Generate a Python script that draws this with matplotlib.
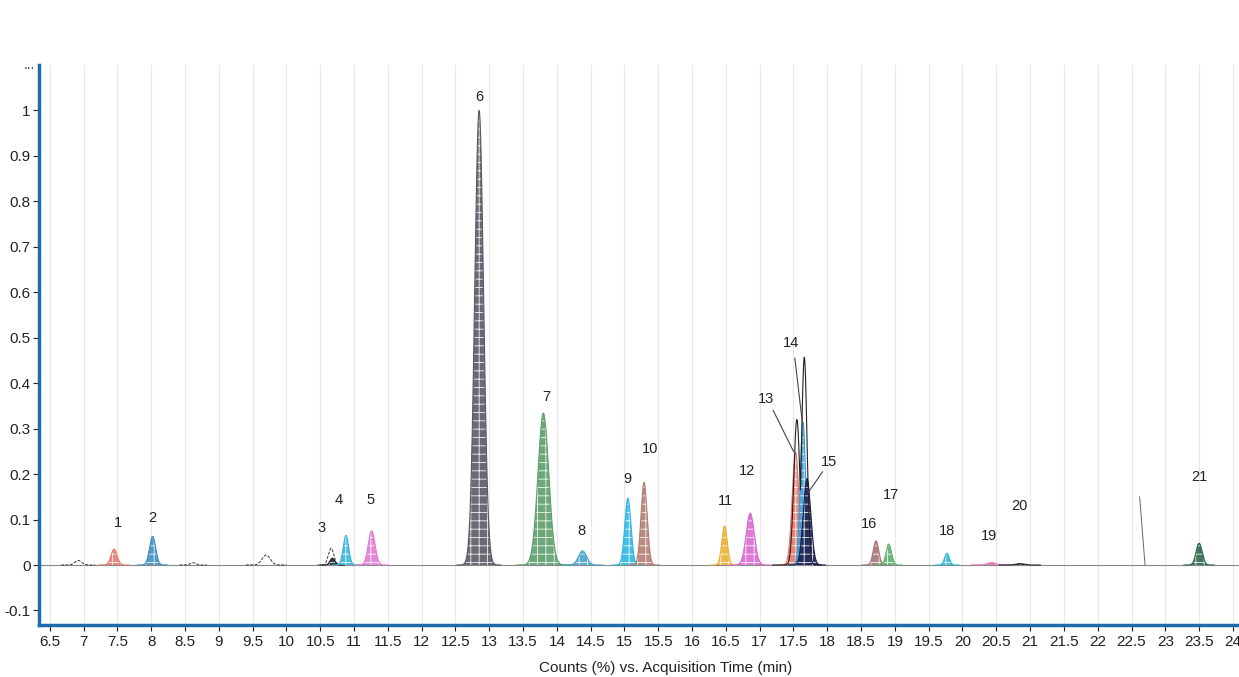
import numpy as np
import matplotlib
matplotlib.use("Agg")
import matplotlib.pyplot as plt

# peak table
peak_labels = ["1", "2", "3", "4", "5", "6", "7", "8", "9", "10", "11",
               "12", "13", "14", "15", "16", "17", "18", "19", "20", "21"]
peak_rt = [7.45, 8.02, 10.68, 10.88, 11.26, 12.85, 13.80, 14.38, 15.05, 15.29, 16.48,
           16.86, 17.53, 17.64, 17.70, 18.72, 18.91, 19.77, 20.43, 20.85, 23.50]
peak_height = [0.035, 0.063, 0.015, 0.065, 0.075, 1.0, 0.334, 0.031, 0.147, 0.182, 0.086,
               0.114, 0.248, 0.314, 0.19, 0.053, 0.046, 0.026, 0.005, 0.003, 0.048]
peak_width = [0.045, 0.045, 0.035, 0.04, 0.05, 0.065, 0.08, 0.06, 0.045, 0.045, 0.04,
              0.06, 0.05, 0.04, 0.055, 0.04, 0.04, 0.035, 0.06, 0.06, 0.045]
peak_color = ["#e57f72", "#3f8fc0", "#222222", "#3cb4dc", "#e27ad2", "#5a5a66", "#5e9f6c",
              "#4aa2cc", "#2fb7e2", "#b27e74", "#e8b236", "#d96cd2", "#e8786c", "#3b9bd3",
              "#1c2150", "#a87474", "#5fb170", "#35b8d8", "#e070b4", "#2a2a2a", "#2b6b4c"]

# label anchor positions (time, counts)
label_x = [7.50, 8.02, 10.52, 10.77, 11.25, 12.85, 13.85, 14.36, 15.05, 15.38, 16.49,
           16.81, 17.09, 17.47, 18.02, 18.62, 18.94, 19.77, 20.39, 20.84, 23.50]
label_y = [0.092, 0.103, 0.081, 0.143, 0.143, 1.03, 0.37, 0.075, 0.19, 0.255, 0.14,
           0.207, 0.365, 0.488, 0.226, 0.09, 0.154, 0.075, 0.064, 0.13, 0.193]

# unfilled outline peaks (integration envelopes)
outline_rt = [6.92, 8.62, 9.70, 10.66, 17.55, 17.66]
outline_height = [0.01, 0.005, 0.022, 0.037, 0.32, 0.457]
outline_width = [0.05, 0.04, 0.06, 0.04, 0.045, 0.04]

yticks = [-0.1, 0, 0.1, 0.2, 0.3, 0.4, 0.5, 0.6, 0.7, 0.8, 0.9, 1.0]
ytick_labels = ["-0.1", "0", "0.1", "0.2", "0.3", "0.4", "0.5", "0.6", "0.7", "0.8", "0.9", "1"]
xticks = np.arange(6.5, 24.01, 0.5)

plt.rcParams["font.family"] = ["Liberation Sans Narrow", "Liberation Sans", "DejaVu Sans"]
plt.rcParams["hatch.linewidth"] = 0.6

fig = plt.figure(figsize=(12.39, 6.77), dpi=100)
ax = fig.add_axes([0.0315, 0.0768, 0.9685, 0.8272])
ax.set_xlim(6.34, 24.09)
ax.set_ylim(-0.132, 1.1)

for x in xticks:
    ax.axvline(x, color="#e8e8e8", lw=0.8, zorder=0)

# baseline
ax.plot([6.34, 24.09], [0, 0], color="#888888", lw=0.8, zorder=1)


def gauss(c, h, w, n=5.0):
    t = np.linspace(c - n * w, c + n * w, 300)
    return t, h * np.exp(-0.5 * ((t - c) / w) ** 2)


# outlines
for c, h, w in zip(outline_rt[:4], outline_height[:4], outline_width[:4]):
    t, y = gauss(c, h, w)
    ax.plot(t, y, color="#333333", lw=0.7, ls=(0, (3, 1.5)), zorder=2)

t, y1 = gauss(outline_rt[4], outline_height[4], outline_width[4], n=8)
y2 = outline_height[5] * np.exp(-0.5 * ((t - outline_rt[5]) / outline_width[5]) ** 2)
ax.plot(t, np.maximum(y1, y2), color="#222222", lw=0.8, zorder=6)

# filled peaks, checkered like the instrument software
order = [0, 1, 3, 2, 4, 5, 6, 7, 8, 9, 10, 11, 12, 13, 14, 15, 16, 17, 18, 19, 20]
for i in order:
    t, y = gauss(peak_rt[i], peak_height[i], peak_width[i])
    ax.fill_between(t, 0, y, facecolor=peak_color[i], edgecolor="#ffffff",
                    hatch="++", lw=0, alpha=0.9, zorder=3 + i * 0.01)
    ax.plot(t, y, color=peak_color[i], lw=0.8, zorder=3 + i * 0.01)

# peak numbers
for i, lab in enumerate(peak_labels):
    ax.text(label_x[i], label_y[i], lab, ha="center", va="center", fontsize=10.5,
            family=["Liberation Sans", "DejaVu Sans"], color="#222222", zorder=8)

# leader lines for the crowded cluster
ax.plot([17.20, 17.50], [0.34, 0.25], color="#444444", lw=0.8, zorder=7)
ax.plot([17.52, 17.63], [0.455, 0.315], color="#444444", lw=0.8, zorder=7)
ax.plot([17.93, 17.72], [0.205, 0.16], color="#444444", lw=0.8, zorder=7)

# marker line near 22.6 min
ax.plot([22.62, 22.70], [0.15, 0.0], color="#666666", lw=0.7, zorder=2)

ax.set_yticks(yticks)
ax.set_yticklabels(ytick_labels)
ax.set_xticks(xticks)
ax.set_xticklabels(["%g" % v for v in xticks])
ax.tick_params(axis="both", labelsize=11, colors="#222222", length=4, width=0.8)
ax.tick_params(axis="y", pad=2)
ax.text(6.28, 1.1, "...", ha="right", va="center", fontsize=10, color="#444444")

for side in ["top", "right"]:
    ax.spines[side].set_visible(False)
for side in ["left", "bottom"]:
    ax.spines[side].set_color("#1f6aaa")
    ax.spines[side].set_linewidth(2.5)

fig.text(666 / 1239, 1 - 668 / 677, "Counts (%) vs. Acquisition Time (min)",
         ha="center", va="center", fontsize=11, color="#222222")

fig.savefig("out.png", dpi=100)
